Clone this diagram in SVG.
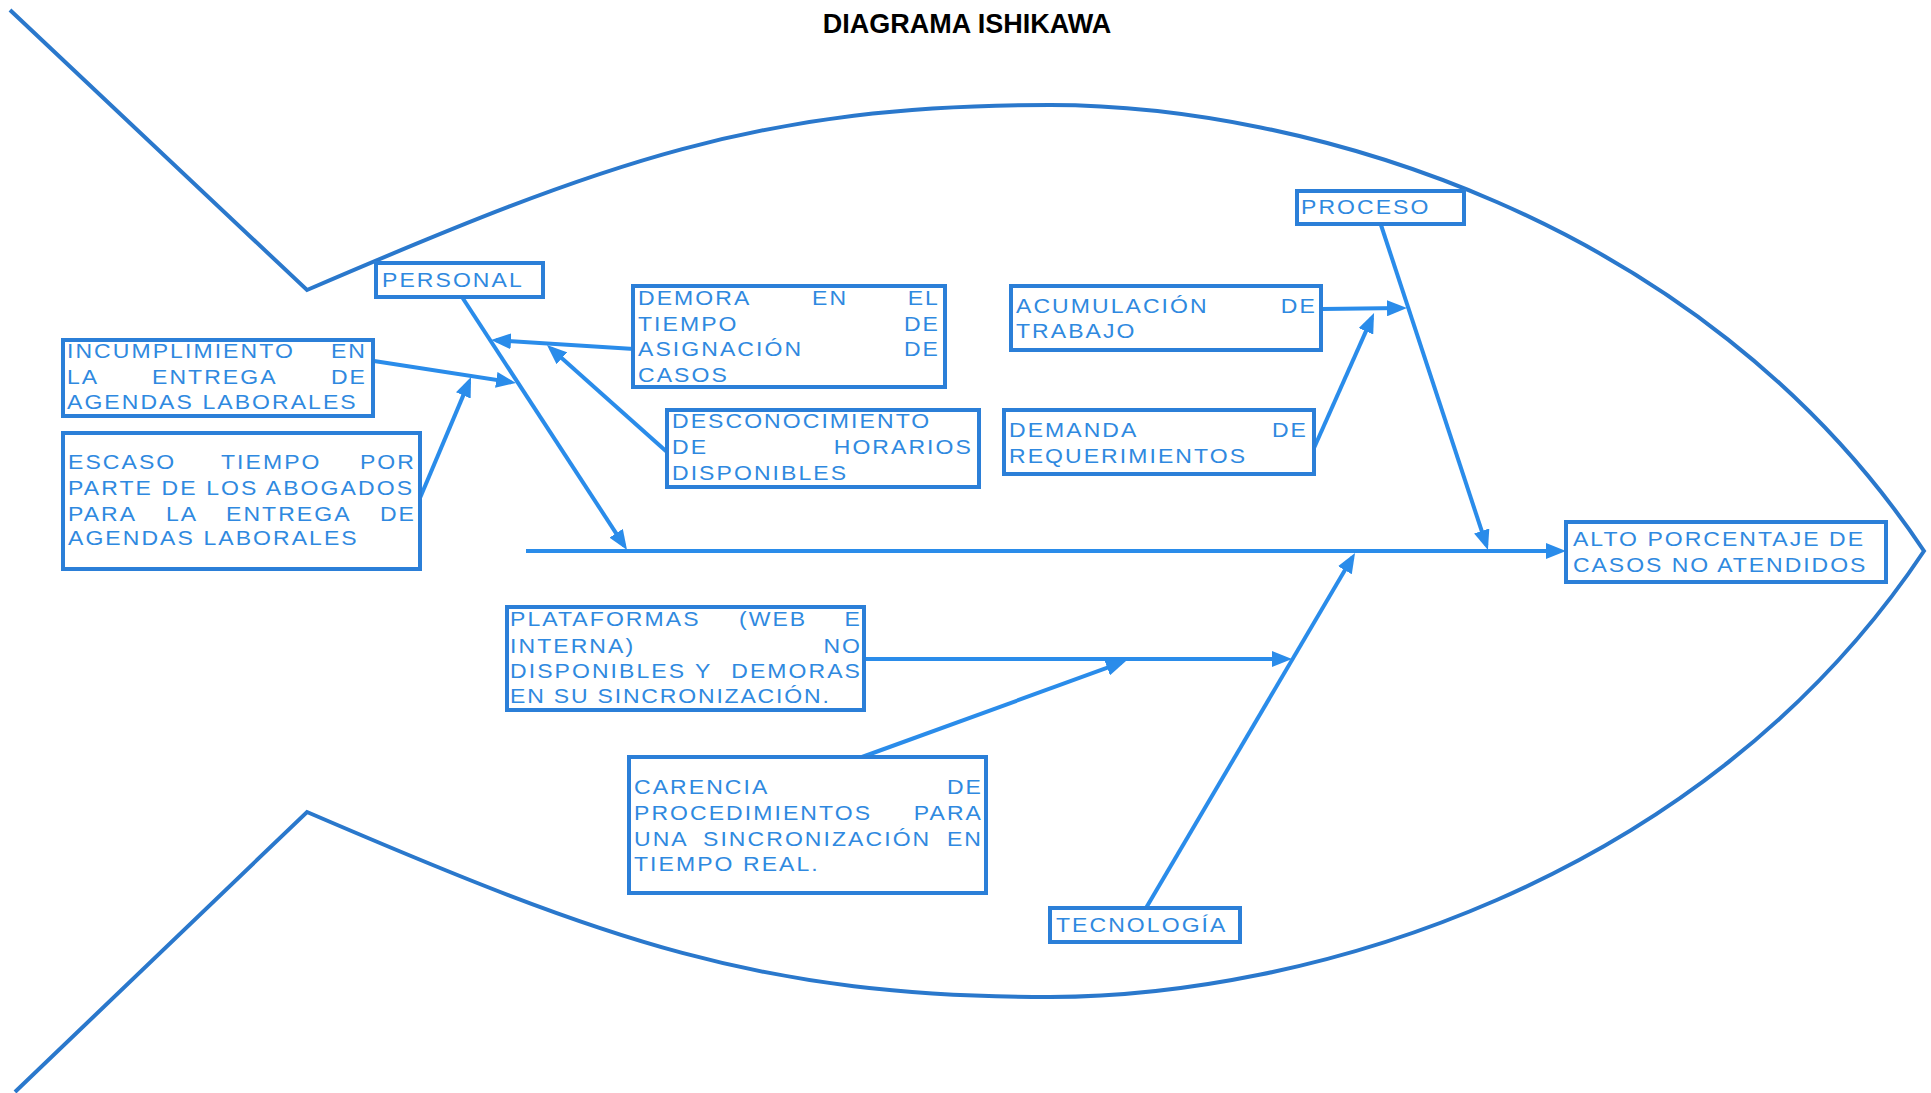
<svg xmlns="http://www.w3.org/2000/svg" width="1931" height="1093" viewBox="0 0 1931 1093">
  <style>
    .fish{fill:none;stroke:#2a78cc;stroke-width:4}
    .box{fill:#ffffff;stroke:#2b7fd8;stroke-width:4}
    .t{font-family:'Liberation Sans',Arial,sans-serif;font-size:20px;letter-spacing:1.8px;fill:#2f89e0}
    .e{text-anchor:end}
    .title{font-family:'Liberation Sans',Arial,sans-serif;font-weight:bold;font-size:27px;fill:#000000;text-anchor:middle}
    #connectors line{stroke:#2a8cea;stroke-width:4;fill:none;marker-end:url(#arrow)}
  </style>
  <defs>
    <marker id="arrow" markerUnits="userSpaceOnUse" markerWidth="20" markerHeight="16" viewBox="0 0 20 16" refX="15" refY="8" orient="auto">
      <path d="M0,0 L20,8 L0,16 z" fill="#2a8cea"/>
    </marker>
  </defs>

  <rect width="1931" height="1093" fill="#ffffff"/>

  <text class="title" x="967" y="33">DIAGRAMA ISHIKAWA</text>

  <!-- fish outline: tail, body and head -->
  <path id="fish" class="fish" d="M10,10 L307,290 C607,161 760,105 1050,105 C1300,105 1700,215 1924,551 C1700,887 1300,997 1050,997 C760,997 607,941 307,812 L15,1092"/>

  <g id="connectors">
    <!-- spine -->
    <line x1="526" y1="551" x2="1561" y2="551"/>
    <!-- PERSONAL branch -->
    <line x1="462" y1="297" x2="624.3" y2="545.8"/>
    <line x1="634" y1="349" x2="496" y2="340.3"/>
    <line x1="667" y1="452" x2="550.7" y2="348.3"/>
    <line x1="374" y1="361" x2="511.1" y2="382.2"/>
    <line x1="420" y1="498" x2="469.1" y2="381.6"/>
    <!-- PROCESO branch -->
    <line x1="1381" y1="225" x2="1486.4" y2="545.2"/>
    <line x1="1322" y1="309" x2="1402" y2="308.1"/>
    <line x1="1314" y1="448" x2="1372" y2="317.6"/>
    <!-- TECNOLOGIA branch -->
    <line x1="1146" y1="908" x2="1352.5" y2="557.3"/>
    <line x1="865" y1="659" x2="1287" y2="659"/>
    <line x1="862" y1="757" x2="1121.3" y2="662.7"/>
  </g>

  <!-- box labels are set in a horizontally widened face (x scaled 1.15 from the text's left edge) -->
  <g id="personal">
    <rect class="box" x="376" y="263" width="167" height="34"/>
    <g transform="matrix(1.15 0 0 1 -57.3 0)">
      <text class="t" x="382" y="287">PERSONAL</text>
    </g>
  </g>

  <g id="demora">
    <rect class="box" x="633" y="286" width="312" height="101"/>
    <g transform="matrix(1.15 0 0 1 -95.7 0)">
      <text class="t" y="305"><tspan x="638">DEMORA</tspan><tspan x="789.3">EN</tspan><tspan class="e" x="900.6">EL</tspan></text>
      <text class="t" y="331"><tspan x="638">TIEMPO</tspan><tspan class="e" x="900.6">DE</tspan></text>
      <text class="t" y="356"><tspan x="638">ASIGNACIÓN</tspan><tspan class="e" x="900.6">DE</tspan></text>
      <text class="t" x="638" y="382">CASOS</text>
    </g>
  </g>

  <g id="desconocimiento">
    <rect class="box" x="667" y="410" width="312" height="77"/>
    <g transform="matrix(1.15 0 0 1 -100.8 0)">
      <text class="t" x="672" y="428">DESCONOCIMIENTO</text>
      <text class="t" y="454"><tspan x="672">DE</tspan><tspan class="e" x="933.7">HORARIOS</tspan></text>
      <text class="t" x="672" y="480">DISPONIBLES</text>
    </g>
  </g>

  <g id="incumplimiento">
    <rect class="box" x="63" y="340" width="310" height="76"/>
    <g transform="matrix(1.15 0 0 1 -10.05 0)">
      <text class="t" y="358"><tspan x="67">INCUMPLIMIENTO</tspan><tspan class="e" x="327.9">EN</tspan></text>
      <text class="t" y="384"><tspan x="67">LA</tspan><tspan x="140.9">ENTREGA</tspan><tspan class="e" x="327.9">DE</tspan></text>
      <text class="t" x="67" y="409">AGENDAS LABORALES</text>
    </g>
  </g>

  <g id="escaso">
    <rect class="box" x="63" y="433" width="357" height="136"/>
    <g transform="matrix(1.15 0 0 1 -10.2 0)">
      <text class="t" y="469"><tspan x="68">ESCASO</tspan><tspan x="201">TIEMPO</tspan><tspan class="e" x="370.6">POR</tspan></text>
      <text class="t" x="68" y="495" textLength="301" lengthAdjust="spacing">PARTE DE LOS ABOGADOS</text>
      <text class="t" y="521"><tspan x="68">PARA</tspan><tspan x="153.2">LA</tspan><tspan x="205.4">ENTREGA</tspan><tspan class="e" x="370.6">DE</tspan></text>
      <text class="t" x="68" y="545">AGENDAS LABORALES</text>
    </g>
  </g>

  <g id="proceso">
    <rect class="box" x="1297" y="191" width="167" height="33"/>
    <g transform="matrix(1.15 0 0 1 -195.15 0)">
      <text class="t" x="1301" y="214">PROCESO</text>
    </g>
  </g>

  <g id="acumulacion">
    <rect class="box" x="1011" y="286" width="310" height="64"/>
    <g transform="matrix(1.15 0 0 1 -152.4 0)">
      <text class="t" y="313"><tspan x="1016">ACUMULACIÓN</tspan><tspan class="e" x="1277.7">DE</tspan></text>
      <text class="t" x="1016" y="338">TRABAJO</text>
    </g>
  </g>

  <g id="demanda">
    <rect class="box" x="1004" y="410" width="310" height="64"/>
    <g transform="matrix(1.15 0 0 1 -151.35 0)">
      <text class="t" y="437"><tspan x="1009">DEMANDA</tspan><tspan class="e" x="1269">DE</tspan></text>
      <text class="t" x="1009" y="463">REQUERIMIENTOS</text>
    </g>
  </g>

  <g id="plataformas">
    <rect class="box" x="507" y="607" width="357" height="103"/>
    <g transform="matrix(1.15 0 0 1 -76.5 0)">
      <text class="t" y="626"><tspan x="510">PLATAFORMAS</tspan><tspan x="709.1">(WEB</tspan><tspan class="e" x="816.1">E</tspan></text>
      <text class="t" y="653"><tspan x="510">INTERNA)</tspan><tspan class="e" x="816.1">NO</tspan></text>
      <text class="t" y="678"><tspan x="510">DISPONIBLES</tspan><tspan x="670.9">Y</tspan><tspan class="e" x="816.1">DEMORAS</tspan></text>
      <text class="t" x="510" y="703" textLength="279" lengthAdjust="spacing">EN SU SINCRONIZACIÓN.</text>
    </g>
  </g>

  <g id="carencia">
    <rect class="box" x="629" y="757" width="357" height="136"/>
    <g transform="matrix(1.15 0 0 1 -95.1 0)">
      <text class="t" y="794"><tspan x="634">CARENCIA</tspan><tspan class="e" x="937.5">DE</tspan></text>
      <text class="t" y="820"><tspan x="634">PROCEDIMIENTOS</tspan><tspan class="e" x="937.5">PARA</tspan></text>
      <text class="t" y="846"><tspan x="634">UNA</tspan><tspan x="694">SINCRONIZACIÓN</tspan><tspan class="e" x="937.5">EN</tspan></text>
      <text class="t" x="634" y="871">TIEMPO REAL.</text>
    </g>
  </g>

  <g id="tecnologia">
    <rect class="box" x="1050" y="908" width="190" height="34"/>
    <g transform="matrix(1.15 0 0 1 -158.4 0)">
      <text class="t" x="1056" y="932">TECNOLOGÍA</text>
    </g>
  </g>

  <g id="efecto">
    <rect class="box" x="1566" y="522" width="320" height="60"/>
    <g transform="matrix(1.15 0 0 1 -235.95 0)">
      <text class="t" x="1573" y="546" textLength="254" lengthAdjust="spacing">ALTO PORCENTAJE DE</text>
      <text class="t" x="1573" y="572" textLength="256" lengthAdjust="spacing">CASOS NO ATENDIDOS</text>
    </g>
  </g>
</svg>
